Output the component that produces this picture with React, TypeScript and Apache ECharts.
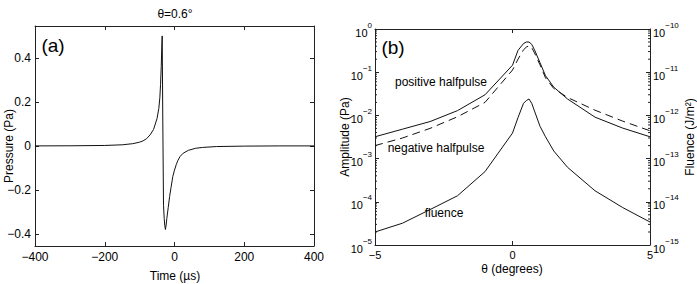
import React, { useEffect, useRef } from 'react';
import * as echarts from 'echarts';

// Panel (a): pressure waveform at theta = 0.6 deg
const timeUs = [-400, -300, -200, -150, -120, -100, -90, -80, -70, -60, -50, -45, -42, -40, -38, -36.5, -35.3, -33.5, -31.5, -29.5, -28, -26, -24, -22, -18, -14, -10, -5, 0, 5, 10, 16, 25, 40, 60, 80, 120, 200, 300, 400];
const pressurePa = [0, 0.0005, 0.002, 0.005, 0.01, 0.017, 0.023, 0.033, 0.05, 0.075, 0.125, 0.17, 0.22, 0.28, 0.36, 0.45, 0.5, 0.1, -0.27, -0.33, -0.36, -0.38, -0.36, -0.33, -0.28, -0.23, -0.19, -0.14, -0.11, -0.085, -0.065, -0.048, -0.033, -0.02, -0.011, -0.007, -0.003, -0.001, 0, 0];

// Panel (b): amplitudes and fluence vs angle
const thetaDeg = [-5, -4, -3, -2, -1, 0, 0.2, 0.4, 0.5, 0.6, 0.7, 0.8, 1, 1.2, 1.5, 2, 3, 4, 5];
const positiveHalfpulse = [3.2e-3, 4.8e-3, 7.2e-3, 1.29e-2, 3.0e-2, 0.145, 0.32, 0.46, 0.5, 0.5, 0.44, 0.33, 0.166, 0.083, 0.045, 0.024, 9.1e-3, 5.1e-3, 3.2e-3];
const negativeHalfpulse = [2.0e-3, 3.0e-3, 5.0e-3, 9.3e-3, 2.0e-2, 0.112, 0.2, 0.33, 0.38, 0.41, 0.37, 0.28, 0.148, 0.074, 0.042, 0.026, 0.0132, 7.4e-3, 4.4e-3];
const fluenceJm2 = [2.0e-15, 3.2e-15, 6.6e-15, 1.38e-14, 5.0e-14, 3.9e-13, 8.9e-13, 1.9e-12, 2.2e-12, 2.4e-12, 1.9e-12, 1.26e-12, 5.6e-13, 3.2e-13, 1.5e-13, 6.3e-14, 1.8e-14, 7.4e-15, 3.4e-15];

const FONT = '"Liberation Sans", Arial, Helvetica, sans-serif';
const AX = '#222';
const MINUS = '\u2212';

const fmtNum = (v: number) => String(v).replace('-', MINUS);
const logLabel = (v: number) => {
  const e = Math.round(Math.log10(v));
  const s = e < 0 ? MINUS + -e : String(e);
  return `{b|10}{s|${s}}`;
};
const logRich = {
  b: { fontSize: 11, padding: [7, 0, 0, 0], fontFamily: FONT, color: '#000' },
  s: { fontSize: 8, padding: [0, 0, 8, 0], fontFamily: FONT, color: '#000' },
};

const axisLine = { show: true, onZero: false, lineStyle: { color: AX, width: 1 } };

export default function App() {
  const ref = useRef<HTMLDivElement>(null);
  useEffect(() => {
    document.body.style.margin = '0';
    const chart = echarts.init(ref.current!, undefined, { renderer: 'svg' });
    const tick = (len: number) => ({ show: true, inside: true, length: len, lineStyle: { color: AX, width: 1 } });
    const option: any = {
      animation: false,
      textStyle: { fontFamily: FONT, color: '#000' },
      grid: [
        { left: 35, top: 26, width: 279, height: 220 },
        { left: 375, top: 29, width: 275, height: 216 },
      ],
      xAxis: [
        {
          gridIndex: 0, type: 'value', position: 'bottom', min: -400, max: 400, interval: 200,
          axisLine, axisTick: tick(4), splitLine: { show: false },
          axisLabel: { fontSize: 12, margin: 5, color: '#000', formatter: fmtNum },
        },
        {
          gridIndex: 0, type: 'value', position: 'top', min: -400, max: 400, interval: 200,
          axisLine, axisTick: tick(4), splitLine: { show: false }, axisLabel: { show: false },
        },
        {
          gridIndex: 1, type: 'value', position: 'bottom', min: -5, max: 5, interval: 5,
          axisLine, axisTick: tick(4), splitLine: { show: false },
          axisLabel: { fontSize: 11, margin: 4, color: '#000', formatter: fmtNum },
        },
        {
          gridIndex: 1, type: 'value', position: 'top', min: -5, max: 5, interval: 5,
          axisLine, axisTick: tick(4), splitLine: { show: false }, axisLabel: { show: false },
        },
      ],
      yAxis: [
        {
          gridIndex: 0, type: 'value', position: 'left', min: -0.455, max: 0.545, splitNumber: 5,
          axisLine, axisTick: tick(4), splitLine: { show: false },
          axisLabel: { fontSize: 12, margin: 4, color: '#000', showMinLabel: false, showMaxLabel: false, formatter: fmtNum },
        },
        {
          gridIndex: 0, type: 'value', position: 'right', min: -0.455, max: 0.545, splitNumber: 5,
          axisLine, axisTick: tick(4), splitLine: { show: false }, axisLabel: { show: false },
        },
        {
          gridIndex: 1, type: 'log', logBase: 10, position: 'left', min: 1e-5, max: 1,
          axisLine, axisTick: tick(4), splitLine: { show: false }, minorTick: { show: false },
          axisLabel: { margin: 3, formatter: logLabel, rich: logRich },
        },
        {
          gridIndex: 1, type: 'log', logBase: 10, position: 'right', min: 1e-15, max: 1e-10,
          axisLine, axisTick: tick(4), splitLine: { show: false }, minorTick: { show: false },
          axisLabel: { margin: 3, formatter: logLabel, rich: logRich },
        },
      ],
      series: [
        {
          type: 'line', xAxisIndex: 0, yAxisIndex: 0, showSymbol: false, symbol: 'none',
          data: timeUs.map((t, i) => [t, pressurePa[i]]),
          lineStyle: { color: '#111', width: 1 },
        },
        {
          type: 'line', xAxisIndex: 2, yAxisIndex: 2, showSymbol: false, symbol: 'none',
          data: thetaDeg.map((t, i) => [t, positiveHalfpulse[i]]),
          lineStyle: { color: '#111', width: 1 },
        },
        {
          type: 'line', xAxisIndex: 2, yAxisIndex: 2, showSymbol: false, symbol: 'none',
          data: thetaDeg.map((t, i) => [t, negativeHalfpulse[i]]),
          lineStyle: { color: '#111', width: 1, type: [8, 5] },
        },
        {
          type: 'line', xAxisIndex: 2, yAxisIndex: 3, showSymbol: false, symbol: 'none',
          data: thetaDeg.map((t, i) => [t, fluenceJm2[i]]),
          lineStyle: { color: '#111', width: 1 },
        },
      ],
    };
    chart.setOption(option);

    const txt = (text: string, x: number, y: number, size: number, rot = 0) => ({
      type: 'text', x, y, rotation: rot, silent: true,
      style: { text, fontSize: size, fontFamily: FONT, fill: '#000', align: 'center', verticalAlign: 'middle' },
    });

    // minor log ticks through the axis scales
    const xl = chart.convertToPixel({ xAxisIndex: 2 }, -5) as number;
    const xr = chart.convertToPixel({ xAxisIndex: 2 }, 5) as number;
    const minor: any[] = [];
    for (let e = -5; e < 0; e++) {
      for (let m = 2; m <= 9; m++) {
        const y = chart.convertToPixel({ yAxisIndex: 2 }, m * Math.pow(10, e)) as number;
        minor.push({ type: 'line', silent: true, shape: { x1: xl, y1: y, x2: xl + 2, y2: y }, style: { stroke: AX, lineWidth: 1 } });
        minor.push({ type: 'line', silent: true, shape: { x1: xr - 2, y1: y, x2: xr, y2: y }, style: { stroke: AX, lineWidth: 1 } });
      }
    }

    chart.setOption({
      graphic: [
        txt('\u03B8=0.6\u00B0', 175, 14, 12),
        txt('(a)', 53, 45, 19),
        txt('(b)', 393, 47, 19),
        txt('Time (\u00B5s)', 175, 276, 12),
        txt('Pressure (Pa)', 9, 146, 12, Math.PI / 2),
        txt('\u03B8 (degrees)', 512, 269, 12),
        txt('Amplitude (Pa)', 345, 137, 12, Math.PI / 2),
        txt('Fluence (J/m\u00B2)', 690, 137, 12, Math.PI / 2),
        txt('positive halfpulse', 441, 82, 12),
        txt('negative halfpulse', 436, 148, 12),
        txt('fluence', 444, 213, 12),
        ...minor,
      ],
    });

    return () => chart.dispose();
  }, []);
  return <div ref={ref} style={{ width: 697, height: 284 }} />;
}
